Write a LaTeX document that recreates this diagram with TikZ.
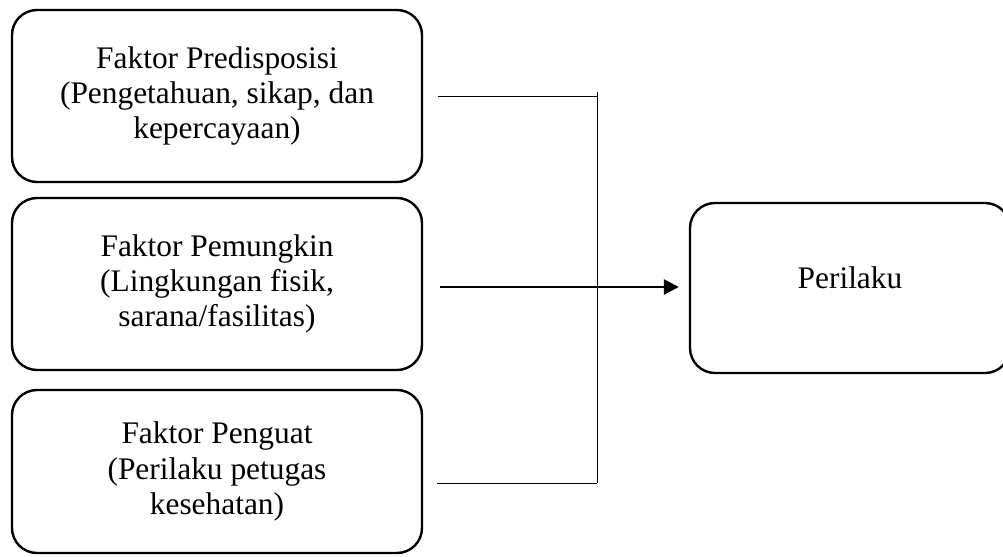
\documentclass[tikz,border=0pt]{standalone}
\usepackage{fontspec}
\setmainfont{Liberation Serif}
\usetikzlibrary{arrows.meta}

\begin{document}
\begin{tikzpicture}[x=0.5pt,y=-0.5pt]

        \useasboundingbox (0,0) rectangle (1003,557);

        \begin{scope}[every node/.style={rectangle, rounded corners=12.5pt, draw, line width=1.2pt, align=center,
            font=\fontsize{15.7pt}{17.6pt}\selectfont, minimum width=205pt}]
          \node[minimum height=86pt] (pre) at (217,96) {Faktor Predisposisi\\(Pengetahuan, sikap, dan\\kepercayaan)};
          \node[minimum height=86pt] (pem) at (217,284) {Faktor Pemungkin\\(Lingkungan fisik,\\sarana/fasilitas)};
          \node[minimum height=81.5pt] (pen) at (217,471.5) {Faktor Penguat\\(Perilaku petugas\\kesehatan)};
          \node[minimum width=160pt, minimum height=85pt, text depth=10pt] (per) at (850,288) {Perilaku};
        \end{scope}

        \coordinate (jtop) at (597,92);
        \coordinate (rtop) at (597,96);
        \coordinate (lbot) at (437,483);
        \coordinate (rbot) at (597,483);
        \coordinate (larr) at (440,287);

        \begin{scope}[every path/.style={line width=0.5pt}]
          \path (pre.east) edge[draw, shorten <=7.5pt] (rtop);
          \path (lbot) edge[draw] (rbot);
          \path (jtop) edge[draw] (rbot);
        \end{scope}

        \draw[line width=1.3pt, -{Triangle[length=7.5pt,width=7.5pt]}, shorten >=5pt] (larr) -- (larr -| per.west);

      \end{tikzpicture}
\end{document}
